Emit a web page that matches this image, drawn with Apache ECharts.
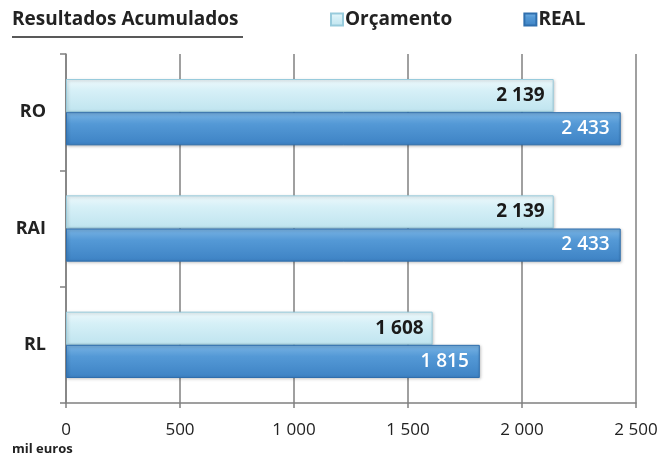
<!DOCTYPE html>
<html><head><meta charset="utf-8">
<script src="https://cdn.jsdelivr.net/npm/echarts@6/dist/echarts.min.js"></script>
<style>html,body{margin:0;padding:0;background:#fff}#c{width:661px;height:459px}</style>
</head><body><div id="c"></div>
<script>
const categories = ['RO', 'RAI', 'RL'];
const orcamento = [2139, 2139, 1608];
const real = [2433, 2433, 1815];
const seriesNames = ['Orçamento', 'REAL'];
const titleText = 'Resultados Acumulados';
const unitText = 'mil euros';

const fmt = v => String(Math.round(v)).replace(/\B(?=(\d{3})+(?!\d))/g, ' ');
const FONT = '"Open Sans", sans-serif';
const chart = echarts.init(document.getElementById('c'));
chart.setOption({
  animation: false,
  textStyle: { fontFamily: FONT },
  title: {
    text: titleText, left: 12, top: 10, padding: 0,
    textStyle: { fontSize: 19, fontWeight: 'bold', color: '#222', fontFamily: FONT }
  },
  graphic: [
    { type: 'line', shape: { x1: 12, y1: 37, x2: 243, y2: 37 }, style: { stroke: '#222', lineWidth: 1.5 } },
    { type: 'text', left: 12, top: 443, style: { text: unitText, font: 'bold 13px ' + FONT, fill: '#222' } }
  ],
  legend: {
    data: seriesNames, top: 10, left: 330, itemGap: 71, itemWidth: 12, itemHeight: 12, padding: 0,
    icon: 'rect',
    textStyle: { fontSize: 19, fontWeight: 'bold', color: '#222', fontFamily: FONT, padding: [0, 0, 0, -3] }
  },
  grid: { left: 66, right: 25, top: 54, bottom: 56 },
  xAxis: {
    type: 'value', min: 0, max: 2500, interval: 500,
    axisLine: { show: true, lineStyle: { color: '#808080', width: 1.5 } },
    axisTick: { show: true, length: 5, lineStyle: { color: '#808080', width: 1.5 } },
    splitLine: { show: true, lineStyle: { color: '#808080', width: 1.5 } },
    axisLabel: { formatter: fmt, fontSize: 17, color: '#222', margin: 19, fontFamily: FONT }
  },
  yAxis: {
    type: 'category', data: categories, inverse: true,
    axisLine: { show: true, lineStyle: { color: '#808080', width: 1.5 } },
    axisTick: { show: true, length: 6, lineStyle: { color: '#808080', width: 1.5 } },
    axisLabel: { fontSize: 18, fontWeight: 'bold', color: '#222', margin: 20, fontFamily: FONT }
  },
  series: [
    {
      name: seriesNames[0], type: 'bar', data: orcamento, barGap: '0%', barCategoryGap: '43%',
      itemStyle: {
        color: new echarts.graphic.LinearGradient(0, 0, 0, 1, [
          { offset: 0, color: '#eef9fc' }, { offset: 0.35, color: '#d6f0f7' }, { offset: 1, color: '#bfe4ef' }
        ]),
        borderColor: '#98cbdc', borderWidth: 1,
        shadowColor: 'rgba(0,0,0,0.25)', shadowBlur: 3, shadowOffsetX: 1, shadowOffsetY: 1
      },
      label: {
        show: true, position: 'insideRight', formatter: p => fmt(p.value), distance: 9,
        fontSize: 19, fontWeight: 'bold', color: '#1a1a1a', fontFamily: FONT
      }
    },
    {
      name: seriesNames[1], type: 'bar', data: real,
      itemStyle: {
        color: new echarts.graphic.LinearGradient(0, 0, 0, 1, [
          { offset: 0, color: '#7ab4e4' }, { offset: 0.35, color: '#5499d6' }, { offset: 1, color: '#3d82c4' }
        ]),
        borderColor: '#2f6fae', borderWidth: 1,
        shadowColor: 'rgba(0,0,0,0.3)', shadowBlur: 3, shadowOffsetX: 1, shadowOffsetY: 1
      },
      label: {
        show: true, position: 'insideRight', formatter: p => fmt(p.value), distance: 11,
        fontSize: 19, fontWeight: 600, color: '#ffffff', fontFamily: FONT
      }
    }
  ]
});
</script></body></html>
